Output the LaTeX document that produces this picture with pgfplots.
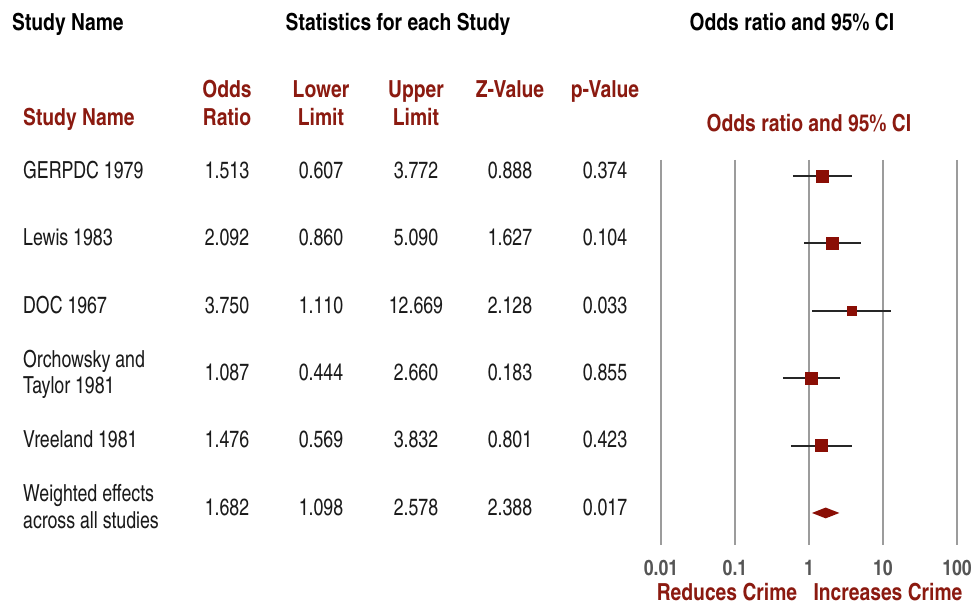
\documentclass[border=0pt]{standalone}
\usepackage{pgfplots}
\pgfplotsset{compat=1.18}
\usepackage{fontspec}
\setmainfont{texgyreheroscn}[Extension=.otf, UprightFont=*-regular, BoldFont=*-bold,
  UprightFeatures={FakeStretch=0.92}, BoldFeatures={FakeStretch=1.0}]
\definecolor{hdr}{HTML}{8B1A10}
\definecolor{mk}{HTML}{8A0E05}
\definecolor{grd}{HTML}{9C9C9C}
\definecolor{tk}{HTML}{555555}
\definecolor{txt}{HTML}{1A1A1A}
\newcommand\fs{\fontsize{23.5}{28}\selectfont}

% odds ratio, lower and upper limit per study (row 1 = top)
\pgfplotstableread{
row or    lo    hi
1   1.513 0.607 3.772
2   2.092 0.860 5.090
3   3.750 1.110 12.669
4   1.087 0.444 2.660
5   1.476 0.569 3.832
6   1.682 1.098 2.578
}\studies

\begin{document}
\begin{tikzpicture}[font=\fs]
\begin{scope}[x=1pt,y=-1pt,yshift=604pt]
  \path (0,0) rectangle (975,604);
\begin{scope}[every node/.style={text height=1.45ex, text depth=0.3ex, inner sep=0pt, yshift=-5.5pt}]
  % top headers
  \node[anchor=west, font=\fs\bfseries] at (12,22) {Study Name};
  \node[font=\fs\bfseries] at (398,22) {Statistics for each Study};
  \node[font=\fs\bfseries] at (792,22) {Odds ratio and 95\% CI};
  % column headers
  \begin{scope}[every node/.append style={text=hdr, font=\fs\bfseries}]
    \node[anchor=west] at (23,117) {Study Name};
    \node at (227,89) {Odds};  \node at (227,117) {Ratio};
    \node at (321,89) {Lower}; \node at (321,117) {Limit};
    \node at (416,89) {Upper}; \node at (416,117) {Limit};
    \node at (510,89) {Z-Value};
    \node at (605,89) {p-Value};
    \node at (809,123) {Odds ratio and 95\% CI};
    \node at (727,592) {Reduces Crime};
    \node at (888,592) {Increases Crime};
  \end{scope}
  \begin{scope}[every node/.append style={text=txt}]
    \node[anchor=west] at (23,170) {GERPDC 1979};
    \node[anchor=west] at (23,237) {Lewis 1983};
    \node[anchor=west] at (23,305) {DOC 1967};
    \node[anchor=west] at (23,359) {Orchowsky and};
    \node[anchor=west] at (23,385) {Taylor 1981};
    \node[anchor=west] at (23,439) {Vreeland 1981};
    \node[anchor=west] at (23,493) {Weighted effects};
    \node[anchor=west] at (23,520) {across all studies};
    \foreach \y/\a/\b/\c/\d/\e in {
      170/1.513/0.607/3.772/0.888/0.374,
      237/2.092/0.860/5.090/1.627/0.104,
      305/3.750/1.110/12.669/2.128/0.033,
      372/1.087/0.444/2.660/0.183/0.855,
      439/1.476/0.569/3.832/0.801/0.423,
      507/1.682/1.098/2.578/2.388/0.017}{
      \node at (227,\y) {\a};
      \node at (321,\y) {\b};
      \node at (416,\y) {\c};
      \node at (510,\y) {\d};
      \node at (605,\y) {\e};
    }
  \end{scope}
\end{scope}
\end{scope}

\begin{axis}[
  at={(661pt,59pt)}, anchor=south west,
  scale only axis, width=296pt, height=385pt,
  xmode=log, xmin=0.01, xmax=100,
  ymin=0.763, ymax=6.475, y dir=reverse,
  xtick={0.01,0.1,1,10,100},
  xticklabels={0.01,0.1,1,10,100},
  ytick=\empty,
  xminorticks=false,
  xmajorgrids,
  major grid style={grd, line width=2.8pt},
  axis line style={draw=none},
  major tick length=0pt,
  xticklabel style={font=\fontsize{21.5}{24}\selectfont\bfseries, text=tk, yshift=-12pt},
  clip=false,
]
  % confidence interval whiskers
  \addplot[black!85, line width=2pt] coordinates {(0.607,1) (3.772,1)};
  \addplot[black!85, line width=2pt] coordinates {(0.860,2) (5.090,2)};
  \addplot[black!85, line width=2pt] coordinates {(1.110,3) (12.669,3)};
  \addplot[black!85, line width=2pt] coordinates {(0.444,4) (2.660,4)};
  \addplot[black!85, line width=2pt] coordinates {(0.569,5) (3.832,5)};
  % point estimates
  \addplot[only marks, mark=square*, mark size=6pt, mk, mark options={draw=none, fill=mk}]
    coordinates {(1.513,1) (2.092,2) (1.087,4) (1.476,5)};
  \addplot[only marks, mark=square*, mark size=4.5pt, mk, mark options={draw=none, fill=mk}]
    coordinates {(3.750,3)};
  % pooled estimate diamond
  \addplot[fill=mk, draw=none] coordinates {(1.098,6) (1.682,5.92) (2.578,6) (1.682,6.08) (1.098,6)};
\end{axis}
\end{tikzpicture}
\end{document}
